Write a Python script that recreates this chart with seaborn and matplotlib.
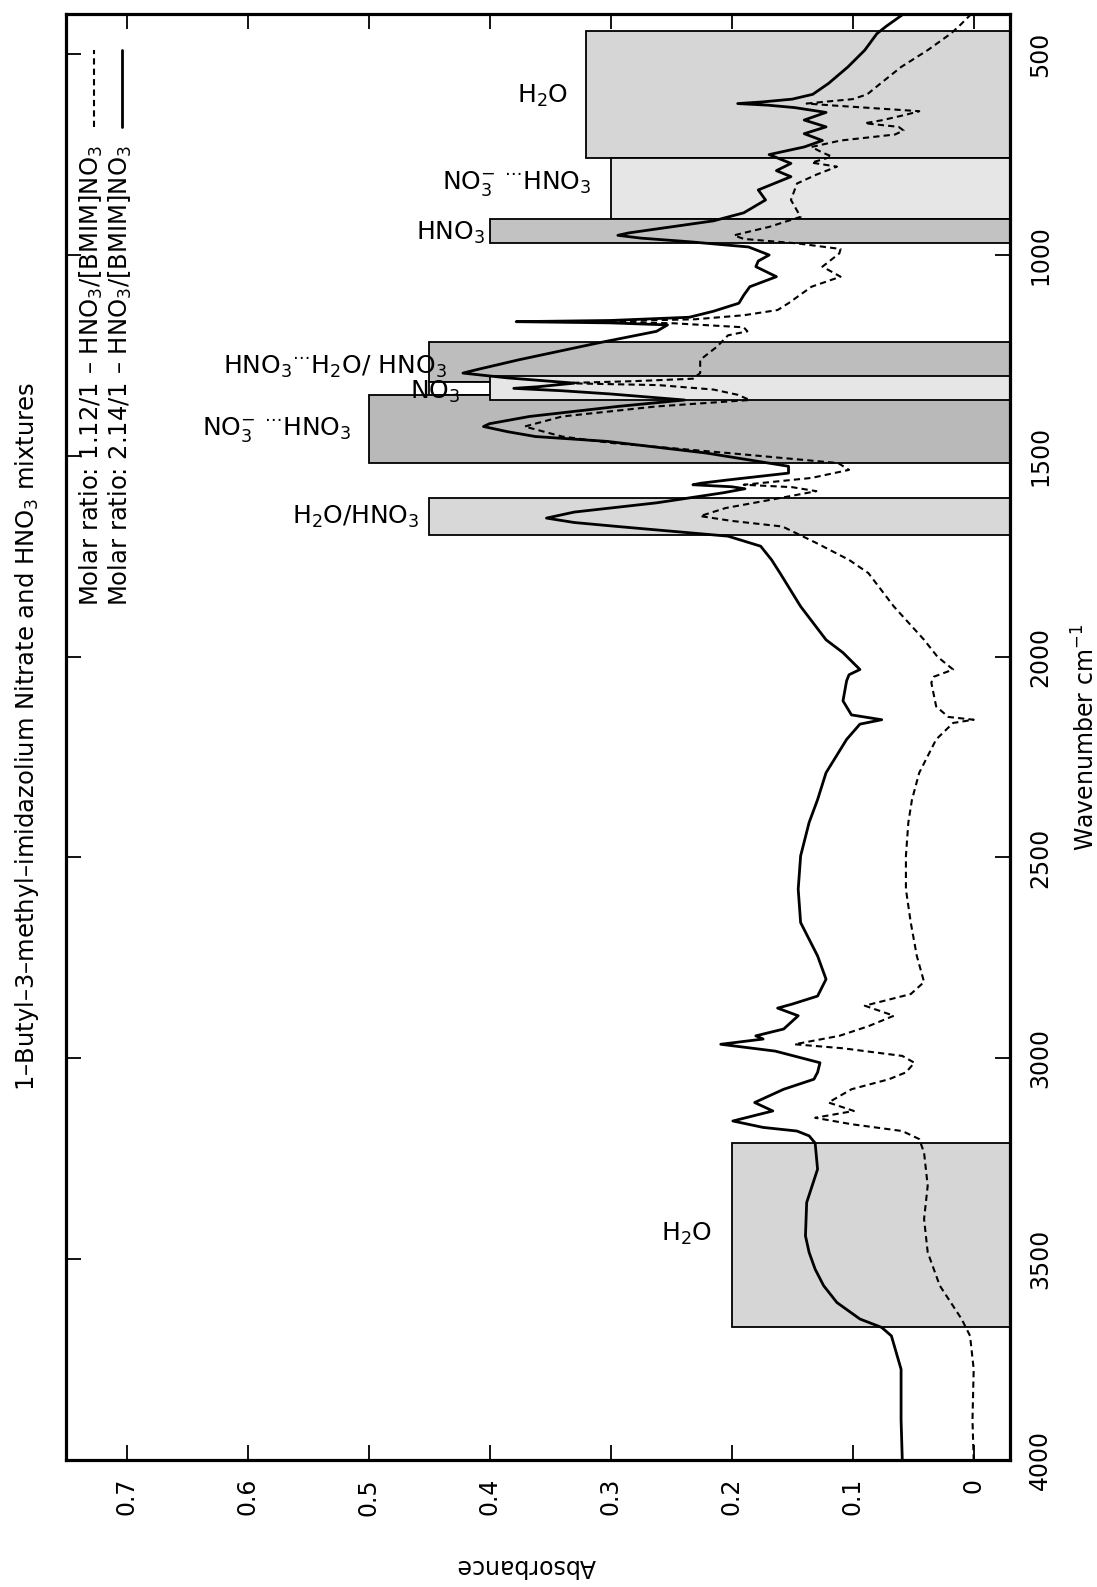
import numpy as np
import pandas as pd
import matplotlib
matplotlib.use("Agg")
import matplotlib.pyplot as plt
import seaborn as sns

# ---------------- data ----------------
wn_solid = [400, 430, 449, 490, 532, 573, 600, 612, 619, 623, 627, 633, 645, 664, 681, 698, 715, 731,
            750, 772, 790, 805, 838, 863, 895, 915, 930, 945, 951, 958, 967, 980, 1000, 1015, 1029,
            1054, 1079, 1100, 1120, 1140, 1155, 1163, 1166, 1169, 1174, 1190, 1220, 1261, 1285, 1294,
            1306, 1319, 1328, 1332, 1338, 1346, 1361, 1377, 1402, 1420, 1427, 1440, 1452, 1464, 1493,
            1526, 1543, 1560, 1568, 1572, 1577, 1582, 1592, 1617, 1640, 1655, 1666, 1676, 1700, 1725,
            1759, 1792, 1875, 1958, 1990, 2032, 2045, 2060, 2110, 2145, 2157, 2168, 2206, 2289, 2356,
            2413, 2496, 2579, 2662, 2745, 2803, 2845, 2865, 2875, 2894, 2927, 2944, 2952, 2965, 2982,
            3011, 3035, 3052, 3077, 3110, 3131, 3156, 3172, 3181, 3193, 3211, 3276, 3359, 3442, 3483,
            3525, 3566, 3608, 3649, 3670, 3691, 3774, 3900, 4000]
abs_solid = [0.058, 0.072, 0.080, 0.090, 0.104, 0.120, 0.133, 0.150, 0.175, 0.195, 0.170, 0.148, 0.122,
             0.140, 0.122, 0.140, 0.125, 0.140, 0.169, 0.151, 0.163, 0.151, 0.178, 0.172, 0.190, 0.215,
             0.250, 0.285, 0.294, 0.275, 0.235, 0.186, 0.169, 0.178, 0.180, 0.163, 0.185, 0.190, 0.194,
             0.215, 0.235, 0.300, 0.378, 0.300, 0.253, 0.262, 0.312, 0.376, 0.410, 0.422, 0.385, 0.330,
             0.360, 0.380, 0.340, 0.300, 0.239, 0.294, 0.367, 0.400, 0.405, 0.385, 0.362, 0.303, 0.221,
             0.153, 0.153, 0.203, 0.225, 0.232, 0.200, 0.189, 0.207, 0.262, 0.330, 0.353, 0.330, 0.294,
             0.203, 0.176, 0.167, 0.160, 0.143, 0.122, 0.108, 0.094, 0.103, 0.105, 0.108, 0.101, 0.076,
             0.094, 0.105, 0.122, 0.129, 0.136, 0.143, 0.145, 0.143, 0.129, 0.122, 0.129, 0.150, 0.162,
             0.145, 0.157, 0.180, 0.174, 0.209, 0.164, 0.127, 0.129, 0.132, 0.157, 0.181, 0.166, 0.199,
             0.174, 0.146, 0.136, 0.131, 0.129, 0.138, 0.139, 0.136, 0.131, 0.124, 0.113, 0.094, 0.076,
             0.068, 0.060, 0.060, 0.059]

wn_dashed = [400, 430, 449, 490, 532, 573, 600, 612, 619, 623, 628, 635, 642, 650, 664, 672, 681, 690,
             700, 715, 731, 745, 755, 770, 780, 800, 822, 863, 905, 930, 945, 951, 960, 971, 985, 996,
             1029, 1054, 1079, 1120, 1137, 1150, 1160, 1166, 1170, 1180, 1190, 1200, 1228, 1261, 1294,
             1308, 1314, 1319, 1324, 1335, 1348, 1361, 1377, 1402, 1427, 1452, 1468, 1493, 1518, 1535,
             1555, 1566, 1572, 1578, 1588, 1609, 1630, 1650, 1662, 1676, 1717, 1759, 1792, 1875, 1958,
             2000, 2032, 2050, 2065, 2124, 2150, 2157, 2165, 2206, 2289, 2356, 2413, 2496, 2579, 2662,
             2745, 2810, 2840, 2869, 2894, 2920, 2944, 2965, 2975, 2994, 3011, 3035, 3052, 3077, 3110,
             3131, 3148, 3164, 3181, 3201, 3235, 3317, 3400, 3483, 3566, 3649, 3691, 3774, 3900, 4000]
abs_dashed = [0.002, 0.012, 0.019, 0.038, 0.060, 0.077, 0.088, 0.100, 0.125, 0.138, 0.115, 0.080, 0.045,
              0.055, 0.075, 0.090, 0.062, 0.058, 0.065, 0.110, 0.134, 0.125, 0.117, 0.134, 0.113, 0.130,
              0.146, 0.151, 0.143, 0.169, 0.190, 0.198, 0.190, 0.146, 0.110, 0.111, 0.125, 0.110, 0.134,
              0.153, 0.162, 0.190, 0.230, 0.320, 0.248, 0.190, 0.187, 0.203, 0.212, 0.226, 0.226, 0.232,
              0.280, 0.340, 0.260, 0.215, 0.195, 0.185, 0.262, 0.340, 0.371, 0.340, 0.299, 0.203, 0.112,
              0.103, 0.134, 0.170, 0.190, 0.150, 0.130, 0.167, 0.205, 0.226, 0.200, 0.158, 0.130, 0.103,
              0.087, 0.066, 0.041, 0.030, 0.017, 0.033, 0.035, 0.031, 0.021, 0.000, 0.017, 0.031, 0.045,
              0.051, 0.054, 0.056, 0.056, 0.052, 0.047, 0.041, 0.052, 0.090, 0.066, 0.087, 0.111, 0.148,
              0.108, 0.059, 0.049, 0.056, 0.070, 0.101, 0.120, 0.099, 0.131, 0.101, 0.059, 0.045, 0.041,
              0.038, 0.041, 0.038, 0.028, 0.010, 0.003, 0.000, 0.001, 0.000]

series_names = ["Molar ratio: 1.12/1 \u2013 HNO$_3$/[BMIM]NO$_3$",
                "Molar ratio: 2.14/1 \u2013 HNO$_3$/[BMIM]NO$_3$"]

# assignment bands (wavenumber range and box height in absorbance)
band_lo = [442, 758, 910, 1216, 1315, 1348, 1301, 1604, 3211]
band_hi = [758, 910, 971, 1315, 1348, 1518, 1361, 1697, 3668]
band_top = [0.32, 0.30, 0.40, 0.45, 0.45, 0.50, 0.40, 0.45, 0.20]
band_fill = ['#d6d6d6', '#e6e6e6', '#c2c2c2', '#bdbdbd', '#ffffff', '#b9b9b9', '#e6e6e6', '#d8d8d8', '#d6d6d6']

band_labels = [r'H$_2$O', r'NO$_3^{-}$ $^{\cdots}$HNO$_3$', r'HNO$_3$', r'HNO$_3$$^{\cdots}$H$_2$O/ HNO$_3$',
               r'NO$_3$', r'NO$_3^{-}$ $^{\cdots}$HNO$_3$', r'H$_2$O/HNO$_3$', r'H$_2$O']
label_abs = [0.335, 0.316, 0.404, 0.435, 0.424, 0.514, 0.458, 0.216]
label_wn = [604, 823, 945, 1278, 1341, 1435, 1652, 3438]

abs_ticks = [0, 0.1, 0.2, 0.3, 0.4, 0.5, 0.6, 0.7]
abs_ticklabels = ['0', '0.1', '0.2', '0.3', '0.4', '0.5', '0.6', '0.7']
wn_ticks = [500, 1000, 1500, 2000, 2500, 3000, 3500, 4000]

title = "1\u2013Butyl\u20133\u2013methyl\u2013imidazolium Nitrate and HNO$_3$ mixtures"

# ---------------- style ----------------
sns.set_style("white")
plt.rcParams['font.family'] = ['DejaVu Sans']
plt.rcParams['mathtext.fontset'] = 'dejavusans'
for k in ['text.color', 'axes.labelcolor', 'xtick.color', 'ytick.color', 'axes.edgecolor']:
    plt.rcParams[k] = 'black'

W, H = 1097, 1587
fig = plt.figure(figsize=(W / 100, H / 100), dpi=100)
ax = fig.add_axes([66 / W, (H - 1460) / H, 944 / W, 1446 / H])

# bands
for lo, hi, top, fc in zip(band_lo, band_hi, band_top, band_fill):
    ax.barh(y=(lo + hi) / 2, width=top + 0.03, left=-0.03, height=hi - lo,
            color=fc, edgecolor='black', linewidth=1.3, zorder=1)

df_d = pd.DataFrame({'wavenumber': wn_dashed, 'absorbance': abs_dashed})
df_s = pd.DataFrame({'wavenumber': wn_solid, 'absorbance': abs_solid})
sns.lineplot(data=df_d, x='absorbance', y='wavenumber', orient='y', estimator=None, sort=True,
             color='black', linewidth=1.5, linestyle=(0, (3, 2)), ax=ax, zorder=3)
sns.lineplot(data=df_s, x='absorbance', y='wavenumber', orient='y', estimator=None, sort=True,
             color='black', linewidth=2.0, ax=ax, zorder=4)

ax.set_xlim(0.75, -0.03)
ax.set_ylim(4000, 400)

for lab, a, w in zip(band_labels, label_abs, label_wn):
    ax.text(a, w, lab, ha='right', va='center', fontsize=18, color='black', zorder=5)

# ticks
ax.set_xticks(abs_ticks)
ax.set_xticklabels(abs_ticklabels)
ax.set_yticks(wn_ticks)
ax.set_yticklabels([str(t) for t in wn_ticks])
ax.tick_params(axis='both', direction='in', length=11, width=1.3, color='black',
               top=True, bottom=True, left=True, right=True,
               labeltop=False, labelbottom=True, labelleft=False, labelright=True,
               labelsize=17, pad=13, labelcolor='black')
ax.tick_params(axis='x', labelrotation=90)
ax.tick_params(axis='y', labelrotation=90)
for t in ax.get_yticklabels():
    t.set_va('center')
for s in ax.spines.values():
    s.set_linewidth(2.3)
    s.set_color('black')

ax.set_xlabel('Absorbance', fontsize=17, rotation=180, va='center', color='black')
ax.xaxis.set_label_coords((526 - 66) / 944, -(1566 - 1460) / 1446)
ax.yaxis.set_label_position('right')
ax.set_ylabel('Wavenumber cm$^{-1}$', fontsize=17, rotation=90, va='center', color='black')
ax.yaxis.set_label_coords((1086 - 66) / 944, 0.5)

# title
fig.text(27 / W, 1 - 736 / H, title, rotation=90, ha='center', va='center', fontsize=17.5,
         color='black')

# legend (drawn rotated like the rest of the figure)
leg_text_x = [91, 120]
leg_line_x = [94, 122]
leg_styles = [(0, (3, 2)), '-']
leg_lw = [1.5, 2.0]
for name, tx, lx, ls, lw in zip(series_names, leg_text_x, leg_line_x, leg_styles, leg_lw):
    fig.text(tx / W, 1 - 145 / H, name, rotation=90, ha='center', va='top', fontsize=17.5,
             color='black')
    fx = (lx - 66) / 944
    ax.plot([fx, fx], [(1460 - 127) / 1446, (1460 - 50) / 1446], transform=ax.transAxes,
            color='black', linestyle=ls, linewidth=lw, clip_on=False)

fig.savefig('out.png', dpi=100)
